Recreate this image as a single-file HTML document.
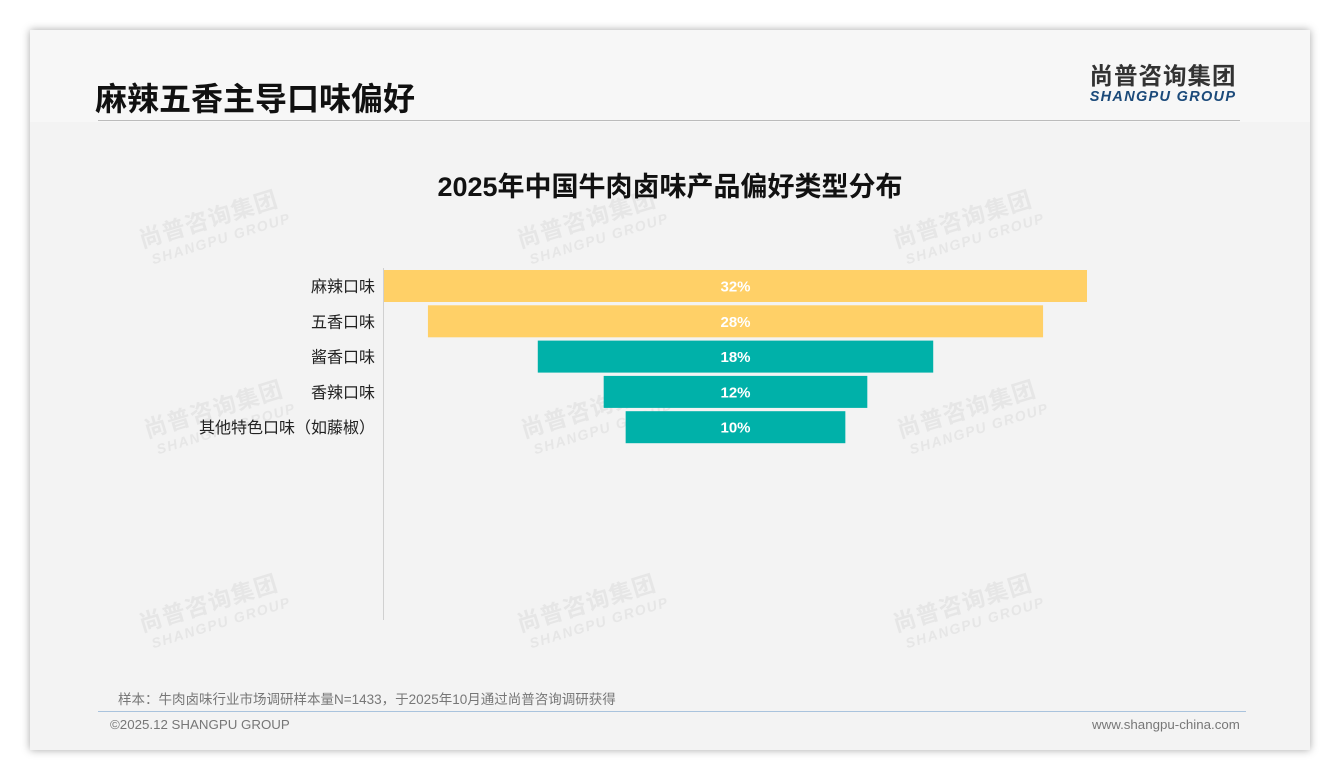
<!DOCTYPE html>
<html><head><meta charset="utf-8">
<style>
body{margin:0;width:1340px;height:780px;background:#fff;font-family:"Liberation Sans","Noto Sans CJK SC",sans-serif;position:relative;overflow:hidden}
#card{position:absolute;left:30px;top:30px;width:1280px;height:720px;background:#f3f3f3;box-shadow:0 0 8px rgba(0,0,0,0.35)}
#head{position:absolute;left:0;top:0;width:1280px;height:92px;background:#f7f7f7}
</style></head><body>
<div id="card">
<div id="head"></div>
</div>
<div style="position:absolute;left:95px;top:74px;font-size:32px;font-weight:bold;color:#111">麻辣五香主导口味偏好</div>
<div style="position:absolute;left:98px;top:120px;width:1142px;height:1px;background:#bbb"></div>
<div style="position:absolute;left:1083px;top:63px;width:160px;text-align:center">
<div style="font-size:23.5px;font-weight:bold;color:#333;letter-spacing:1px;line-height:26px">尚普咨询集团</div>
<div style="font-size:14.5px;font-weight:bold;font-style:italic;color:#1b4a7a;letter-spacing:1.3px;line-height:16px">SHANGPU GROUP</div>
</div>
<svg id="chart" width="1340" height="780" style="position:absolute;left:0;top:0"></svg>
<div style="position:absolute;left:118px;top:688px;font-size:13.5px;color:#777">样本：牛肉卤味行业市场调研样本量N=1433，于2025年10月通过尚普咨询调研获得</div>
<div style="position:absolute;left:98px;top:711px;width:1148px;height:1px;background:#a9c3dd"></div>
<div style="position:absolute;left:110px;top:717px;font-size:13.3px;color:#777">©2025.12 SHANGPU GROUP</div>
<div style="position:absolute;left:1092px;top:717px;font-size:13.3px;color:#777">www.shangpu-china.com</div>
<script>
const categories=["麻辣口味","五香口味","酱香口味","香辣口味","其他特色口味（如藤椒）"];
const values=[32,28,18,12,10];
const colors=["#FFD067","#FFD067","#00B1A9","#00B1A9","#00B1A9"];
const NS="http://www.w3.org/2000/svg";
const svg=document.getElementById('chart');
function mk(t,a){const e=document.createElementNS(NS,t);for(const k in a)e.setAttribute(k,a[k]);svg.appendChild(e);return e;}
const wmPos=[[142,248],[520,248],[896,248],[147,438],[524,438],[900,438],[142,632],[520,632],[896,632]];
wmPos.forEach(p=>{
 const g=mk('g',{transform:`translate(${p[0]},${p[1]}) rotate(-17)`});
 
 
 const t1=document.createElementNS(NS,'text');t1.setAttribute('x',0);t1.setAttribute('y',0);t1.setAttribute('font-size','23');t1.setAttribute('font-weight','bold');t1.setAttribute('fill','#e6e6e6');t1.setAttribute('letter-spacing','1');t1.textContent='尚普咨询集团';g.appendChild(t1);
 const t2=document.createElementNS(NS,'text');t2.setAttribute('x',6);t2.setAttribute('y',19);t2.setAttribute('font-size','14');t2.setAttribute('font-weight','bold');t2.setAttribute('font-style','italic');t2.setAttribute('fill','#e6e6e6');t2.setAttribute('letter-spacing','1.5');t2.textContent='SHANGPU GROUP';g.appendChild(t2);
});
const title=mk('text',{x:670,y:196,'text-anchor':'middle','font-size':27,'font-weight':'bold',fill:'#111'});


title.textContent='2025年中国牛肉卤味产品偏好类型分布';
const cx=735.5, pxPer=703/32, y0=270, step=35.3, bh=32;
const x=v=>v*pxPer;
const ax=mk('line',{x1:383.5,y1:268,x2:383.5,y2:620,stroke:'#d0d0d0','stroke-width':1});


categories.forEach((c,i)=>{
 const w=x(values[i]), y=y0+i*step;
 const r=mk('rect',{x:cx-w/2,y:y,width:w,height:bh,fill:colors[i]});
 
 
 const v=mk('text',{x:cx,y:y+bh/2+5.5,'text-anchor':'middle','font-size':15,'font-weight':'bold',fill:'#fff'});
 
 
 v.textContent=values[i]+'%';
 const l=mk('text',{x:375,y:y+bh/2+6,'text-anchor':'end','font-size':16,fill:'#222'});
 
 
 l.textContent=c;
});
</script>
</body></html>
